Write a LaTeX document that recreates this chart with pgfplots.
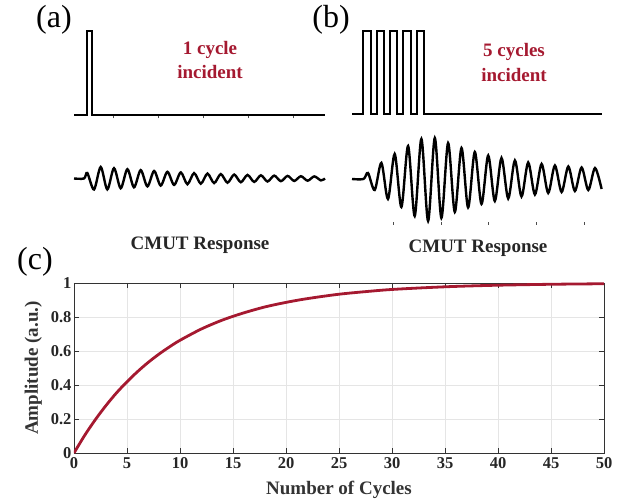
\documentclass[border=0pt]{standalone}
\usepackage{fontspec}
\setmainfont{Liberation Serif}
\usepackage{pgfplots}
\pgfplotsset{compat=1.18}
\definecolor{crim}{RGB}{165,25,48}
\begin{document}
\begin{tikzpicture}[x=1pt,y=1pt]
\path[use as bounding box] (0,0) rectangle (621,-502);

% ---------- (a) incident pulse ----------
\begin{axis}[at={(74pt,-115.5pt)}, anchor=south west, scale only axis,
  width=251pt, height=84.5pt, xmin=0, xmax=251, ymin=0, ymax=1,
  clip=false, hide y axis, axis x line*=bottom, x axis line style={draw=none},
  xtick={39.5,84,129,174,219}, xticklabels={}, tick align=outside,
  major tick length=3pt, tick style={black!70, line width=0.7pt}]
\addplot[black, line width=2pt, line join=miter] coordinates {
 (0,0) (12.7,0) (12.7,1) (18.3,1) (18.3,0) (251,0)};
\end{axis}

% ---------- (a) response ----------
\begin{axis}[at={(74pt,-198.5pt)}, anchor=south west, scale only axis,
  width=251pt, height=40pt, xmin=0, xmax=251, ymin=-20, ymax=20,
  clip=false, hide axis]
\addplot[black, line width=2.4pt, smooth] coordinates {
 (0,0) (10,0) (13.3,5.5) (20.0,-11.0) (26.7,11.5) (33.3,-10.9) (40.0,10.3)
 (46.7,-9.8) (53.4,9.3) (60.0,-8.8) (66.7,8.35) (73.4,-7.9) (80.1,7.5)
 (86.7,-7.1) (93.4,6.7) (100.1,-6.4) (106.8,6.1) (113.4,-5.7) (120.1,5.4)
 (126.8,-5.2) (133.5,4.9) (140.1,-4.6) (146.8,4.4) (153.5,-4.2) (160.2,3.95)
 (166.8,-3.75) (173.5,3.55) (180.2,-3.4) (186.9,3.2) (193.5,-3.0) (200.2,2.9)
 (206.9,-2.7) (213.6,2.6) (220.2,-2.45) (226.9,2.3) (233.6,-2.2) (240.3,2.1)
 (246.9,-1.9) (251,0)};
\end{axis}

% ---------- (b) incident pulses ----------
\begin{axis}[at={(352pt,-114.5pt)}, anchor=south west, scale only axis,
  width=250pt, height=83pt, xmin=0, xmax=250, ymin=0, ymax=1,
  clip=false, hide axis]
\addplot[black, line width=2pt, line join=miter] coordinates {
 (0,0) (11.3,0) (11.3,1) (19,1) (19,0) (24.7,0) (24.7,1) (32.3,1) (32.3,0)
 (38,0) (38,1) (45.3,1) (45.3,0) (51.3,0) (51.3,1) (58.7,1) (58.7,0)
 (64.7,0) (64.7,1) (72.3,1) (72.3,0) (250,0)};
\end{axis}

% ---------- (b) response ----------
\begin{axis}[at={(352pt,-222pt)}, anchor=south west, scale only axis,
  width=250pt, height=86pt, xmin=0, xmax=250, ymin=-43, ymax=43,
  clip=false, hide y axis, axis x line*=bottom, x axis line style={draw=none},
  xtick={41,89,136.5,184,232}, xticklabels={}, tick align=outside,
  major tick length=3pt, tick style={black!70, line width=0.7pt}]
\addplot[black, line width=2.4pt, smooth] coordinates {
 (0,0) (11.5,0) (16.0,6) (22.7,-11) (29.4,16) (36.0,-20) (42.7,25) (49.4,-28)
 (56.1,33) (62.7,-37) (69.4,40) (76.1,-42) (82.8,41) (89.4,-39) (96.1,36)
 (102.8,-33) (109.5,31) (116.1,-28.5) (122.8,27) (129.5,-25) (136.2,23.5)
 (142.8,-22) (149.5,21) (156.2,-19.5) (162.9,18.5) (169.5,-17.5) (176.2,16.5)
 (182.9,-15.5) (189.6,15) (196.2,-14) (202.9,13.5) (209.6,-13) (216.3,12.5)
 (222.9,-12) (229.6,11.5) (236.3,-11) (243.0,11) (249.6,-10)};
\end{axis}

% ---------- (c) amplitude vs cycles ----------
\begin{axis}[at={(74pt,-453pt)}, anchor=south west, scale only axis,
  width=530pt, height=170pt, xmin=0, xmax=50, ymin=0, ymax=1,
  xtick={0,5,...,50}, ytick={0,0.2,0.4,0.6,0.8,1},
  tick pos=both, xticklabel pos=lower, yticklabel pos=left,
  tick align=inside, major tick length=5pt,
  axis line style={black!80, line width=0.8pt},
  tick style={black!80, line width=0.8pt},
  grid=major, grid style={black!10, line width=0.5pt},
  /pgf/number format/assume math mode=true,
  ticklabel style={font=\fontsize{16.5}{17}\selectfont\bfseries, text=black!85},
  yticklabel style={/pgf/number format/fixed, xshift=1pt},
  xticklabel style={yshift=-1pt},
  xlabel={Number of Cycles}, ylabel={Amplitude (a.u.)},
  label style={font=\fontsize{19}{21}\selectfont\bfseries, text=black!80},
  xlabel style={yshift=-6pt}, ylabel style={yshift=2pt}]
\addplot[crim, line width=2.8pt, smooth] coordinates {
 (0,0) (1,0.103) (2,0.195) (3,0.278) (4,0.353) (5,0.419) (6,0.479) (7,0.533)
 (8,0.581) (9,0.624) (10,0.663) (12,0.729) (14,0.782) (16,0.824) (18,0.859)
 (20,0.886) (22,0.908) (25,0.934) (28,0.952) (30,0.962) (33,0.972) (36,0.980)
 (40,0.987) (45,0.9925) (50,0.9956)};
\end{axis}

% ---------- texts ----------
\node[font=\fontsize{32}{34}\selectfont] at (54,-20) {(a)};
\node[font=\fontsize{32}{34}\selectfont] at (331,-20) {(b)};
\node[font=\fontsize{32}{34}\selectfont] at (35,-262) {(c)};
\node[font=\fontsize{19}{21}\selectfont\bfseries, text=crim, align=center] at (210,-50) {1 cycle};
\node[font=\fontsize{19}{21}\selectfont\bfseries, text=crim, align=center] at (210,-72) {incident};
\node[font=\fontsize{19}{21}\selectfont\bfseries, text=crim, align=center] at (514,-52) {5 cycles};
\node[font=\fontsize{19}{21}\selectfont\bfseries, text=crim, align=center] at (514,-75) {incident};
\node[font=\fontsize{19}{21}\selectfont\bfseries, text=black!85] at (200,-245) {CMUT Response};
\node[font=\fontsize{19}{21}\selectfont\bfseries, text=black!85] at (478,-248) {CMUT Response};
\end{tikzpicture}
\end{document}
